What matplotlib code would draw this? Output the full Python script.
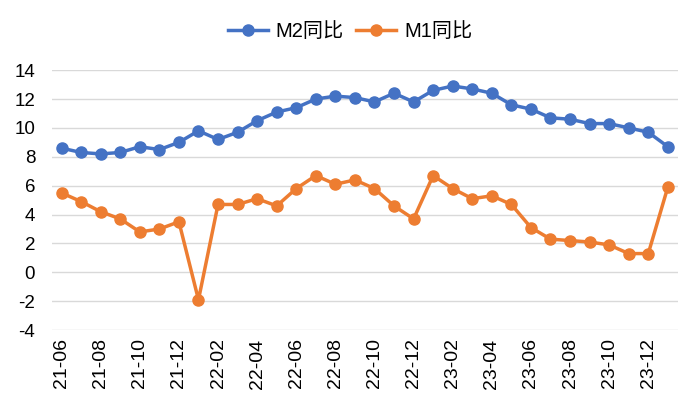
import matplotlib
matplotlib.use("Agg")
import matplotlib.pyplot as plt

plt.rcParams['font.family'] = ['Liberation Sans', 'Noto Sans CJK SC', 'DejaVu Sans']

months = ["21-06","21-07","21-08","21-09","21-10","21-11","21-12",
          "22-01","22-02","22-03","22-04","22-05","22-06","22-07","22-08","22-09","22-10","22-11","22-12",
          "23-01","23-02","23-03","23-04","23-05","23-06","23-07","23-08","23-09","23-10","23-11","23-12",
          "24-01"]
m2 = [8.6, 8.3, 8.2, 8.3, 8.7, 8.5, 9.0,
      9.8, 9.2, 9.7, 10.5, 11.1, 11.4, 12.0, 12.2, 12.1, 11.8, 12.4, 11.8,
      12.6, 12.9, 12.7, 12.4, 11.6, 11.3, 10.7, 10.6, 10.3, 10.3, 10.0, 9.7,
      8.7]
m1 = [5.5, 4.9, 4.2, 3.7, 2.8, 3.0, 3.5,
      -1.9, 4.7, 4.7, 5.1, 4.6, 5.8, 6.7, 6.1, 6.4, 5.8, 4.6, 3.7,
      6.7, 5.8, 5.1, 5.3, 4.7, 3.1, 2.3, 2.2, 2.1, 1.9, 1.3, 1.3,
      5.9]
yticks = [-4, -2, 0, 2, 4, 6, 8, 10, 12, 14]

fig = plt.figure(figsize=(7, 4.2), dpi=100)
ax = fig.add_axes([0.074, 0.214, 0.894, 0.619])

x = list(range(len(months)))
ax.plot(x, m2, color='#4472C4', lw=2.5, marker='o', ms=8, label='M2同比', zorder=3)
ax.plot(x, m1, color='#ED7D31', lw=2.5, marker='o', ms=8, label='M1同比', zorder=3)

ax.set_xlim(-0.5, len(months) - 0.5)
ax.set_ylim(-4, 14)
ax.set_yticks(yticks)
ax.set_yticklabels([str(v) for v in yticks], fontsize=13.5)
ax.set_xticks(x[::2])
ax.set_xticklabels(months[::2], rotation=90, fontsize=14)
ax.tick_params(axis='both', length=0)
ax.tick_params(axis='y', pad=12)
ax.tick_params(axis='x', pad=6)
ax.grid(axis='y', color='#d9d9d9', lw=1)
ax.set_axisbelow(True)
for s in ax.spines.values():
    s.set_visible(False)

fig.legend(loc='center', bbox_to_anchor=(0.5, 0.924), ncol=2, frameon=False,
           fontsize=14.5, handlelength=2.0, columnspacing=0.6, handletextpad=0.4)

fig.savefig('out.png', dpi=100)
